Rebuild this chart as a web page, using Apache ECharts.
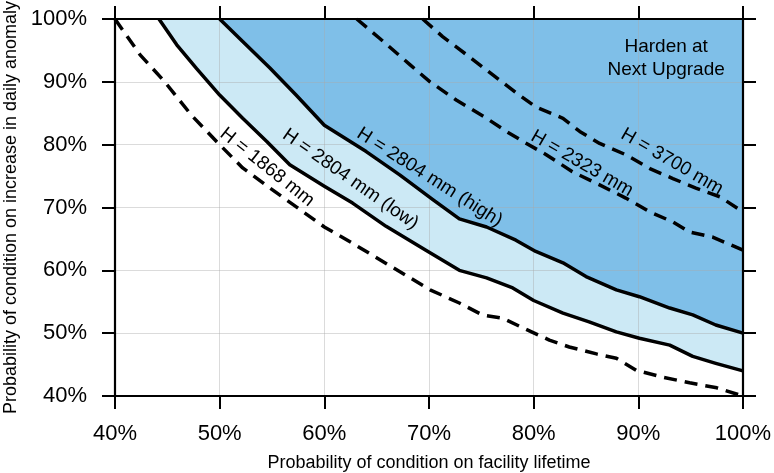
<!DOCTYPE html>
<html><head><meta charset="utf-8">
<script src="https://cdn.jsdelivr.net/npm/echarts@6/dist/echarts.min.js"></script>
<style>html,body{margin:0;padding:0;background:#fff}#c{width:774px;height:473px}</style>
</head><body><div id="c"></div>
<script>
// Axis ticks (percent)
const xTicks = [40, 50, 60, 70, 80, 90, 100];
const yTicks = [40, 50, 60, 70, 80, 90, 100];
const xAxisName = 'Probability of condition on facility lifetime';
const yAxisName = 'Probability of condition on increase in daily anomaly';

// H = 1868 mm (dashed)
const h1868X = [40, 42.4, 44.75, 47.3, 49.7, 52.2, 54.8, 60.0, 62.7, 66.5, 70.1, 72.9, 75.1, 77.0, 79.8, 81.5, 83.4, 86.0, 87.9, 89.8, 92.3, 94.9, 97.5, 100];
const h1868Y = [100, 94.3, 90.0, 84.7, 80.5, 76.3, 73.1, 66.9, 64.3, 60.5, 56.9, 54.8, 52.9, 52.4, 50.2, 48.9, 47.8, 46.7, 46.0, 44.1, 43.0, 42.1, 41.3, 40.0];

// H = 2804 mm (low) (solid)
const h2804LowX = [44.2, 45.9, 47.8, 50.0, 52.2, 54.5, 56.7, 60.0, 62.7, 65.9, 69.7, 72.9, 75.5, 78.0, 80.0, 82.8, 85.3, 87.9, 90.1, 93.0, 95.2, 97.4, 100];
const h2804LowY = [100, 95.9, 92.1, 87.9, 84.2, 80.5, 76.8, 73.4, 70.7, 67.0, 63.2, 60.0, 58.8, 57.2, 55.2, 53.2, 51.8, 50.2, 49.2, 48.1, 46.3, 45.2, 44.0];

// H = 2804 mm (high) (solid)
const h2804HighX = [50, 52.2, 54.8, 57.3, 60.0, 64.0, 67.2, 70.4, 72.9, 75.5, 78.3, 80.2, 82.8, 85.0, 87.9, 90.1, 93.0, 95.2, 97.4, 100];
const h2804HighY = [100, 96.4, 92.2, 87.9, 83.1, 78.9, 75.2, 71.2, 68.2, 66.9, 64.8, 63.0, 61.2, 59.0, 56.9, 55.8, 54.0, 52.9, 51.3, 50.0];

// H = 2323 mm (dashed)
const h2323X = [63.1, 65.3, 68.2, 70.1, 72.6, 75.5, 77.5, 79.0, 81.2, 83.7, 86.3, 88.8, 91.1, 93.3, 94.9, 97.1, 100];
const h2323Y = [100, 96.9, 92.7, 90.0, 87.1, 84.2, 82.0, 80.5, 78.4, 75.7, 73.6, 71.5, 69.3, 67.7, 66.1, 65.3, 63.2];

// H = 3700 mm (dashed)
const h3700X = [69.4, 71.3, 73.6, 76.1, 78.3, 80.2, 82.8, 84.4, 86.3, 88.8, 91.1, 93.3, 95.5, 97.8, 100];
const h3700Y = [100, 97.2, 94.3, 91.1, 88.3, 86.0, 84.2, 82.1, 80.2, 78.4, 76.2, 74.6, 73.1, 71.7, 69.3];

// Curve labels
const labelTexts = ['H = 1868 mm', 'H = 2804 mm (low)', 'H = 2804 mm (high)', 'H = 2323 mm', 'H = 3700 mm'];
const regionText = 'Harden at\nNext Upgrade';

const zip = (xs, ys) => xs.map((x, i) => [x, ys[i]]);
const FONT = 'Liberation Sans, Arial, Helvetica, sans-serif';
const DARK = '#7fbfe8';
const LIGHT = '#cce9f5';
const GRIDC = 'rgba(170,170,170,0.42)';

const chart = echarts.init(document.getElementById('c'), null, {renderer: 'canvas'});

function axisCommon(ticks) {
  return {
    type: 'value', min: ticks[0], max: ticks[ticks.length - 1], interval: ticks[1] - ticks[0],
    z: 2,
    axisLine: {show: true, onZero: false, lineStyle: {color: '#000', width: 2.2}},
    axisTick: {show: true, inside: false, length: 13, lineStyle: {color: '#000', width: 2}},
    splitLine: {show: false},
    axisLabel: {show: false}
  };
}

const xBottom = Object.assign(axisCommon(xTicks), {
  position: 'bottom',
  splitLine: {show: true, lineStyle: {color: GRIDC, width: 1}},
  axisLabel: {show: true, formatter: '{value}%', fontSize: 22, color: '#000', fontFamily: FONT, margin: 27},
  name: xAxisName, nameLocation: 'middle', nameGap: 58,
  nameTextStyle: {fontSize: 18, color: '#000', fontFamily: FONT}
});
const xTop = Object.assign(axisCommon(xTicks), {position: 'top'});
const yLeft = Object.assign(axisCommon(yTicks), {
  position: 'left',
  splitLine: {show: true, lineStyle: {color: GRIDC, width: 1}},
  axisLabel: {show: true, formatter: '{value}%', fontSize: 22, color: '#000', fontFamily: FONT, margin: 28},
  name: yAxisName, nameLocation: 'middle', nameGap: 93,
  nameTextStyle: {fontSize: 18, color: '#000', fontFamily: FONT}
});
const yRight = Object.assign(axisCommon(yTicks), {position: 'right'});

function fillSeries(xs, ys, color) {
  return {
    type: 'line', data: zip(xs, ys), showSymbol: false, silent: true, z: 1,
    lineStyle: {width: 0, opacity: 0},
    areaStyle: {color: color, opacity: 1, origin: 'end'},
    animation: false
  };
}
function curveSeries(xs, ys, dashed) {
  return {
    type: 'line', data: zip(xs, ys), showSymbol: false, silent: true, z: 3,
    lineStyle: {color: '#000', width: 3.5, type: dashed ? [13, 8] : 'solid', cap: 'butt', join: 'round'},
    animation: false
  };
}

chart.setOption({
  animation: false,
  backgroundColor: '#fff',
  grid: {left: 115, right: 31, top: 19, bottom: 77, containLabel: false, outerBoundsMode: 'none'},
  xAxis: [xBottom, xTop],
  yAxis: [yLeft, yRight],
  series: [
    fillSeries(h2804LowX, h2804LowY, LIGHT),
    fillSeries(h2804HighX, h2804HighY, DARK),
    curveSeries(h1868X, h1868Y, true),
    curveSeries(h2804LowX, h2804LowY, false),
    curveSeries(h2804HighX, h2804HighY, false),
    curveSeries(h2323X, h2323Y, true),
    curveSeries(h3700X, h3700Y, true)
  ]
});

// label anchors in data coordinates with rotation (degrees, clockwise)
const labelAnchors = [
  {x: 54.54, y: 76.4, rot: 38.5},
  {x: 62.5, y: 74.5, rot: 35},
  {x: 70.06, y: 74.8, rot: 32.5},
  {x: 84.62, y: 77.0, rot: 30},
  {x: 93.22, y: 77.3, rot: 30}
];
const graphics = labelTexts.map((t, i) => {
  const a = labelAnchors[i];
  const p = chart.convertToPixel({gridIndex: 0}, [a.x, a.y]);
  return {
    type: 'text', x: p[0], y: p[1], rotation: -a.rot * Math.PI / 180, z: 10,
    style: {text: t, fontSize: 19, fontFamily: FONT, fill: '#000', align: 'center', verticalAlign: 'middle'}
  };
});
const rp = chart.convertToPixel({gridIndex: 0}, [92.66, 93.8]);
graphics.push({
  type: 'text', x: rp[0], y: rp[1], z: 10,
  style: {text: regionText, fontSize: 19, lineHeight: 23, fontFamily: FONT, fill: '#000', align: 'center', verticalAlign: 'middle'}
});
chart.setOption({graphic: graphics});
</script>
</body></html>
